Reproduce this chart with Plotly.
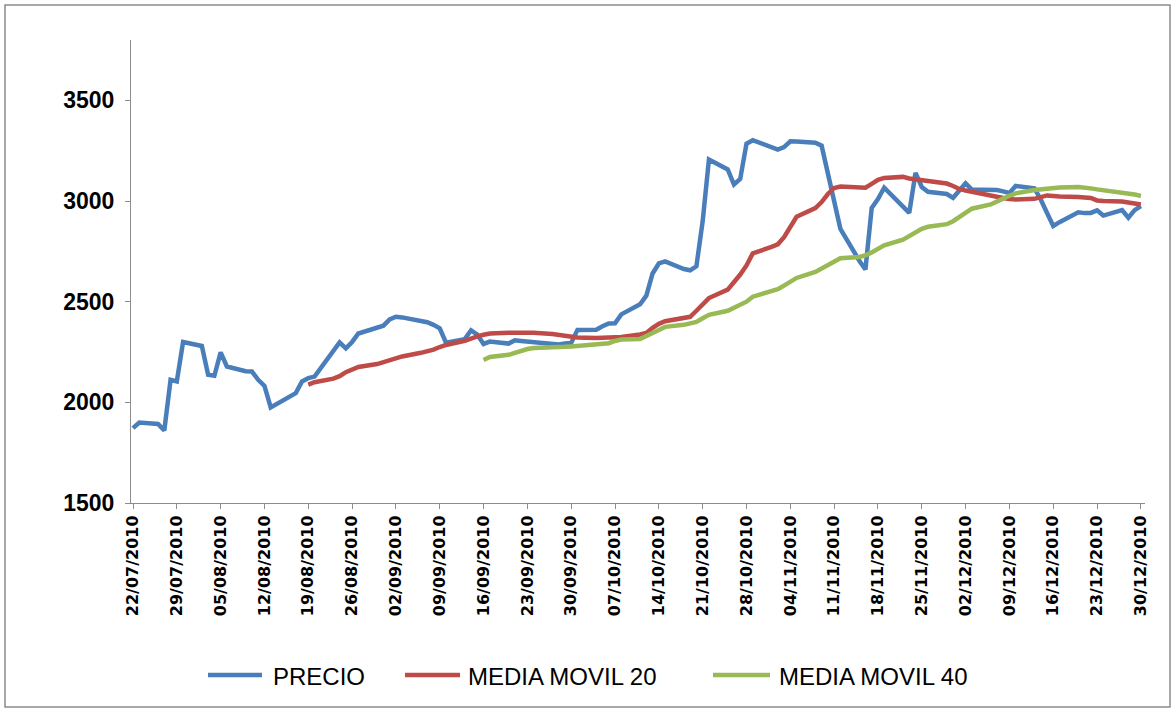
import plotly.graph_objects as go

fechas = [
    "2010-07-22", "2010-07-23", "2010-07-26", "2010-07-27", "2010-07-28", "2010-07-29", "2010-07-30",
    "2010-08-02", "2010-08-03", "2010-08-04", "2010-08-05", "2010-08-06",
    "2010-08-09", "2010-08-10", "2010-08-11", "2010-08-12", "2010-08-13",
    "2010-08-16", "2010-08-17", "2010-08-18", "2010-08-19", "2010-08-20",
    "2010-08-23", "2010-08-24", "2010-08-25", "2010-08-26", "2010-08-27",
    "2010-08-30", "2010-08-31", "2010-09-01", "2010-09-02", "2010-09-03",
    "2010-09-06", "2010-09-07", "2010-09-08", "2010-09-09", "2010-09-10",
    "2010-09-13", "2010-09-14", "2010-09-15", "2010-09-16", "2010-09-17",
    "2010-09-20", "2010-09-21", "2010-09-22", "2010-09-23", "2010-09-24",
    "2010-09-27", "2010-09-28", "2010-09-29", "2010-09-30", "2010-10-01",
    "2010-10-04", "2010-10-05", "2010-10-06", "2010-10-07", "2010-10-08",
    "2010-10-11", "2010-10-12", "2010-10-13", "2010-10-14", "2010-10-15",
    "2010-10-18", "2010-10-19", "2010-10-20", "2010-10-21", "2010-10-22",
    "2010-10-25", "2010-10-26", "2010-10-27", "2010-10-28", "2010-10-29",
    "2010-11-01", "2010-11-02", "2010-11-03", "2010-11-04", "2010-11-05",
    "2010-11-08", "2010-11-09", "2010-11-10", "2010-11-11", "2010-11-12",
    "2010-11-15", "2010-11-16", "2010-11-17", "2010-11-18", "2010-11-19",
    "2010-11-22", "2010-11-23", "2010-11-24", "2010-11-25", "2010-11-26",
    "2010-11-29", "2010-11-30", "2010-12-01", "2010-12-02", "2010-12-03",
    "2010-12-06", "2010-12-07", "2010-12-08", "2010-12-09", "2010-12-10",
    "2010-12-13", "2010-12-14", "2010-12-15", "2010-12-16", "2010-12-17",
    "2010-12-20", "2010-12-21", "2010-12-22", "2010-12-23", "2010-12-24",
    "2010-12-27", "2010-12-28", "2010-12-29", "2010-12-30",
]

precio = [
    1872, 1900, 1893, 1860, 2112, 2104, 2300,
    2280, 2137, 2132, 2248, 2178,
    2155, 2153, 2112, 2082, 1975,
    2025, 2046, 2104, 2120, 2128,
    2250, 2298, 2268, 2300, 2342,
    2372, 2381, 2412, 2425, 2422,
    2405, 2398, 2385, 2368, 2296,
    2314, 2358, 2336, 2290, 2302,
    2292, 2308, 2305, 2302, 2298,
    2286, 2288, 2292, 2295, 2360,
    2361, 2378, 2392, 2393, 2437,
    2487, 2530, 2640, 2690, 2700,
    2662, 2656, 2676, 2900, 3206,
    3157, 3082, 3110, 3285, 3302,
    3265, 3256, 3268, 3297, 3296,
    3290, 3275, 3130, 2990, 2862,
    2705, 2660, 2965, 3010, 3066,
    2970, 2941, 3140, 3070, 3046,
    3035, 3016, 3050, 3088, 3057,
    3057, 3055, 3048, 3040, 3075,
    3063, 3008, 2940, 2876, 2895,
    2944, 2940, 2941, 2954, 2928,
    2955, 2917, 2955, 2975,
]

media_movil_20 = [
    None, None, None, None, None, None, None,
    None, None, None, None, None,
    None, None, None, None, None,
    None, None, None, 2088, 2100,
    2118, 2130, 2150, 2165, 2176,
    2190, 2200, 2210, 2220, 2228,
    2246, 2252, 2262, 2275, 2285,
    2306, 2318, 2328, 2336, 2342,
    2346, 2347, 2348, 2348, 2346,
    2340, 2336, 2330, 2325, 2322,
    2320, 2320, 2320, 2321, 2325,
    2337, 2345, 2370, 2390, 2403,
    2416, 2425, 2455, 2485, 2518,
    2560, 2595, 2635, 2680, 2740,
    2772, 2785, 2820, 2870, 2922,
    2965, 2995, 3035, 3065, 3072,
    3068, 3066, 3085, 3105, 3115,
    3120, 3112, 3108, 3105, 3100,
    3087, 3075, 3060, 3052, 3045,
    3027, 3022, 3015, 3010, 3008,
    3011, 3022, 3028, 3025, 3022,
    3020, 3018, 3015, 3003, 3000,
    2998, 2993, 2987, 2983,
]

media_movil_40 = [
    None, None, None, None, None, None, None,
    None, None, None, None, None,
    None, None, None, None, None,
    None, None, None, None, None,
    None, None, None, None, None,
    None, None, None, None, None,
    None, None, None, None, None,
    None, None, None, 2210, 2225,
    2236, 2245, 2258, 2265, 2270,
    2271, 2274, 2276, 2278, 2280,
    2287, 2290, 2294, 2305, 2312,
    2315, 2330, 2350, 2365, 2375,
    2385, 2392, 2400, 2418, 2435,
    2455, 2470, 2485, 2500, 2525,
    2552, 2562, 2580, 2598, 2618,
    2648, 2665, 2688, 2705, 2716,
    2722, 2730, 2745, 2765, 2780,
    2808, 2825, 2845, 2862, 2872,
    2885, 2900, 2920, 2940, 2962,
    2983, 2995, 3012, 3026, 3038,
    3055, 3058, 3062, 3065, 3067,
    3070, 3068, 3063, 3058, 3054,
    3045, 3040, 3033, 3025,
]

series_names = ["PRECIO", "MEDIA MOVIL 20", "MEDIA MOVIL 40"]
series_colors = ["#4A7EBB", "#BE4B48", "#98B954"]
y_ticks = [1500, 2000, 2500, 3000, 3500]

W, H = 1174, 712
ML, MR, MT, MB = 131, 29, 40, 209
PW, PH = W - ML - MR, H - MT - MB


def px_x(X):
    return (X - ML) / PW


def px_y(Y):
    return (H - MB - Y) / PH


fig = go.Figure()
for name, vals, col in zip(series_names, [precio, media_movil_20, media_movil_40], series_colors):
    fig.add_trace(go.Scatter(
        x=fechas, y=vals, name=name, mode="lines",
        line=dict(color=col, width=4.5), connectgaps=False, showlegend=False,
    ))

# chart frame
shapes = [dict(type="rect", xref="paper", yref="paper",
               x0=px_x(5), x1=px_x(1170), y0=px_y(707), y1=px_y(5),
               line=dict(color="#8C8C8C", width=1.5), fillcolor="rgba(0,0,0,0)", layer="below")]
annotations = []
# custom legend
leg_items = [(208, 262, 271), (405, 460, 466), (713, 770, 777)]
leg_y = 675
for (x0, x1, xt), name, col in zip(leg_items, series_names, series_colors):
    shapes.append(dict(type="line", xref="paper", yref="paper",
                       x0=px_x(x0), x1=px_x(x1), y0=px_y(leg_y), y1=px_y(leg_y),
                       line=dict(color=col, width=4.5)))
    annotations.append(dict(xref="paper", yref="paper", x=px_x(xt), y=px_y(leg_y + 1),
                            text=name, showarrow=False, xanchor="left", yanchor="middle",
                            font=dict(family="Liberation Sans", size=24, color="#000000")))

fig.update_layout(
    width=W, height=H,
    margin=dict(l=ML, r=MR, t=MT, b=MB, pad=0),
    paper_bgcolor="white", plot_bgcolor="white",
    shapes=shapes, annotations=annotations,
    hovermode=False,
    xaxis=dict(
        type="date",
        range=["2010-07-21 16:20", "2010-12-30 15:50"],
        tick0="2010-07-22", dtick=7 * 86400000,
        tickformat="%d/%m/%Y", tickangle=-90,
        tickfont=dict(family="DejaVu Sans", size=16, color="#000000", weight="bold"),
        showgrid=False, zeroline=False,
        showline=True, linecolor="#8C8C8C", linewidth=1,
        ticks="outside", ticklen=5, tickcolor="#8C8C8C",
    ),
    yaxis=dict(
        range=[1500, 3800],
        tickvals=y_ticks,
        tickfont=dict(family="Liberation Sans", size=23, color="#000000", weight="bold"),
        showgrid=False, zeroline=False,
        showline=True, linecolor="#8C8C8C", linewidth=1,
        ticks="outside", ticklen=5, tickcolor="#8C8C8C",
        ticklabelstandoff=6,
    ),
)

fig.write_html("out.html", config={"displayModeBar": False},
               post_script="document.body.style.margin='0';")
